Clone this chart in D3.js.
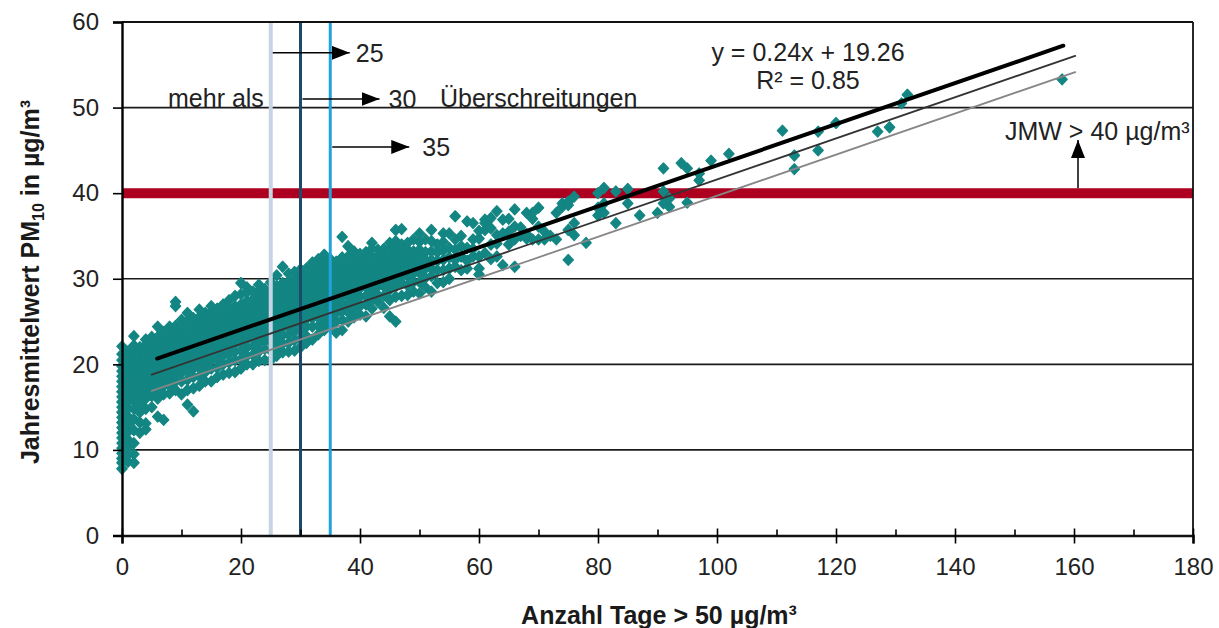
<!DOCTYPE html>
<html><head><meta charset="utf-8">
<script src="https://cdn.jsdelivr.net/npm/d3@7"></script>
<style>html,body{margin:0;padding:0;background:#fff;} svg{display:block;}</style>
</head><body>
<svg id="chart" width="1219" height="628"></svg>
<script>
// ---------- data ----------
const xTickValues = [0,20,40,60,80,100,120,140,160,180];
const xMinorTicks = [10,30,50,70,90,110,130,150,170];
const yTickValues = [0,10,20,30,40,50,60];
const gridValues = [10,20,30,50];
const thresholdDays = [25,30,35];
const thresholdColors = ["#c6d4e4","#1b4a6b","#22a2dc"];
const thresholdWidths = [4,3,3];
const arrowLabels = ["25","30","35"];
const arrowLevels = [56.4,51.0,45.4];
const limitValue = 40;
const fitSlopes = [0.24,0.24,0.24];
const fitIntercepts = [19.26,17.6,15.7];
const fitFrom = [5.9,5,5];
const fitTo = [158.2,160.2,160.2];
const fitColors = ["#000000","#333333","#868686"];
const fitWidths = [4,1.8,1.8];

// scatter: days (x) and annual means (y) grouped by day
const scatterDays = [0,1,2,3,4,5,6,7,8,9,10,11,12,13,14,15,16,17,18,19,20,21,22,23,24,25,26,27,28,29,30,31,32,33,34,35,36,37,38,39,40,41,42,43,44,45,46,47,48,49,50,51,52,53,54,55,56,57,58,59,60,61,62,63,64,65,66,67,68,69,70,71,72,73,74,75,76,78,80,81,83,85,87,90,91,92,94,95,97,99,102,111,113,117,120,127,129,131,132,158];
const scatterPM10 = [
 [7.8,8.5,9,9.6,10.2,10.8,11.4,12,12.6,13.2,13.8,14.4,15,15.6,16.2,16.8,17.4,18,18.6,19.2,19.8,20.5,21.2,22.1],
 [8.6,9.4,10.3,11.2,12.1,13,13.9,14.8,15.6,16.3,17,17.6,18.2,18.8,19.4,20,20.8,21.5],
 [8.5,9.5,10.8,12.3,13.6,14.8,15.8,16.7,17.4,18,18.6,19.2,19.8,20.5,21.3,22.2,23.3],
 [12,13.2,14.4,15.4,16.3,17,17.6,18.2,18.8,19.4,20,20.6,21.3,22],
 [12.4,13.1,14.8,16,16.8,17.4,18,18.6,19.2,19.8,20.4,21,21.6,22.3,22.9],
 [15,16.3,17,17.6,18.2,18.8,19.4,20,20.6,21.2,21.8,22.5,23.2],
 [13.9,16,17,17.6,18.2,18.8,19.4,20,20.6,21.2,21.8,22.4,23.2,24.4],
 [13.5,16.5,17.5,18.1,18.7,19.3,19.9,20.5,21.1,21.7,22.3,23,23.8],
 [16.6,17.5,18.2,18.8,19.4,20,20.6,21.2,21.8,22.4,23,23.7,24.4],
 [17,18,18.7,19.3,19.9,20.5,21.1,21.7,22.3,23,23.7,24.5,26.8,27.3],
 [16.5,18,19,19.6,20.2,20.8,21.4,22,22.6,23.2,23.8,24.5,25.2],
 [15.3,17,18.2,19.2,20,20.6,21.2,21.8,22.4,23,23.6,24.3,25.1,26],
 [14.5,17.2,18.5,19.5,20.3,20.9,21.5,22.1,22.7,23.3,23.9,24.6,25.4],
 [17.5,18.6,19.6,20.5,21.1,21.7,22.3,22.9,23.5,24.1,24.8,25.5,26.4],
 [18,19.1,20.1,21,21.6,22.2,22.8,23.4,24,24.6,25.2,26],
 [18,19.5,20.5,21.2,21.8,22.4,23,23.6,24.2,24.8,25.4,26.1,26.8],
 [18.5,19.6,20.6,21.5,22.1,22.7,23.3,23.9,24.5,25.1,25.7,26.5],
 [18.8,20,21,21.9,22.5,23.1,23.7,24.3,24.9,25.5,26.1,27],
 [19,20.2,21.2,22.1,22.8,23.4,24,24.6,25.2,25.8,26.5,27.5],
 [19.1,20.5,21.5,22.4,23.1,23.7,24.3,24.9,25.5,26.1,26.8,28],
 [19.5,20.6,21.6,22.5,23.2,23.8,24.4,25,25.6,26.2,27,28.2,29.5],
 [20,21,22,22.9,23.6,24.2,24.8,25.4,26,26.6,27.4,28.4,29],
 [20,21.1,22.1,23,23.8,24.4,25,25.6,26.2,26.8,27.6,28.5],
 [20.4,21.5,22.5,23.4,24.1,24.7,25.3,25.9,26.5,27.1,27.8,28.6,29.3],
 [20.5,21.8,22.8,23.7,24.4,25,25.6,26.2,26.8,27.4,28,28.8],
 [20.5,21.6,22.6,23.5,24.3,24.9,25.5,26.1,26.7,27.3,27.9,28.6,29.6],
 [21,22,23,23.9,24.7,25.3,25.9,26.5,27.1,27.7,28.3,29.1,30.4],
 [21.4,22.4,23.4,24.3,25,25.6,26.2,26.8,27.4,28,28.7,29.5,31.4],
 [21.5,22.5,23.5,24.4,25.2,25.8,26.4,27,27.6,28.2,28.9,29.7,30.6],
 [21.6,22.8,23.8,24.7,25.4,26,26.6,27.2,27.8,28.4,29.1,29.9,30.8],
 [22,23,24,24.9,25.7,26.3,26.9,27.5,28.1,28.7,29.4,30.2,31.1],
 [22.5,23.3,24.4,25.3,26,26.6,27.2,27.8,28.4,29,29.7,30.5,31.2],
 [22.9,24.4,25.4,26.1,26.7,27.3,27.9,28.5,29.1,29.7,30.4,31.2,31.9],
 [23.5,24.5,25.5,26.4,27,27.6,28.2,28.8,29.4,30,30.7,31.5,32.3],
 [24,25,26,26.7,27.3,27.9,28.5,29.1,29.7,30.3,31,31.8,32.8],
 [24.4,25.5,26.5,27.2,27.8,28.4,29,29.6,30.2,30.9,31.6,32.3],
 [23.7,25,26,26.9,27.6,28.2,28.8,29.4,30,30.6,31.3,32],
 [24,25.2,26.2,27.1,27.9,28.5,29.1,29.7,30.3,30.9,31.6,32.5,34.9],
 [25,26.1,27.1,28,28.7,29.3,29.9,30.5,31.1,31.8,32.6,33.8],
 [25.5,26.5,27.5,28.4,29.1,29.7,30.3,30.9,31.6,32.4,33.2],
 [25.8,26.8,27.9,28.9,29.6,30.2,30.8,31.4,32.1,32.9],
 [25.6,27,28,29,29.8,30.4,31,31.6,32.3,33.1],
 [26.5,27.5,28.5,29.4,30.1,30.7,31.3,31.9,32.6,33.5,34.2],
 [27.3,28.1,29.1,30,30.7,31.3,31.9,32.6,33.4],
 [26.6,28,29.1,30.1,30.8,31.4,32,32.7,33.5],
 [25.6,27.5,28.7,29.7,30.6,31.3,31.9,32.6,33.4,34.2],
 [25,27.9,29.1,30.1,31,31.6,32.2,32.9,33.7,34.4,35.7],
 [28,29.5,30.5,31.3,31.9,32.5,33.2,34,35.8],
 [28.1,29.2,30.3,31.2,32,32.7,33.4,34.2],
 [28.5,29.6,30.6,31.6,32.4,33.2,34.6],
 [28.3,29.6,30.7,31.7,32.6,33.4,34.3,35.3],
 [29,30.1,31.2,32.2,33.1,34.6],
 [28.5,30.3,31.2,32.2,33.2,34.4,35.7],
 [29.5,31,32.1,33.1,34],
 [29.6,31,32.2,33.3,34.3,35.3],
 [30,31.2,32.5,33.6,35.3],
 [31.4,32.2,33.4,34.6,37.3],
 [31,32.6,33.8,35],
 [31.2,32.1,33.6,36.7],
 [32.6,33.5,34.6,36.5],
 [30.5,31.2,32.6,34.7,35.6],
 [33,35.7,36.5,36.9],
 [32.3,34,35.9,37.1],
 [32.6,34.1,35.1,37.9],
 [31.6,35.3,36.9],
 [34,35.5,37],
 [31.4,34.6,36.1,38.1],
 [35,36],
 [34.7,35.2,37.7],
 [34.6,37,37.7],
 [34.6,36.1,38.3],
 [34.6,35.5],
 [35],
 [34.6,37.7],
 [38.4,38.8],
 [32.2,35.7,38.6,39],
 [35.1,36.5,39.6],
 [34.2],
 [37.4,38.3,40],
 [37.7,38.8,40.6],
 [36.5,40.2],
 [38.8,40.5],
 [37.4],
 [37.7],
 [38.8,40.2,42.9],
 [38.4,39.4],
 [43.5],
 [38.9,42.9],
 [41.5,42.3],
 [43.8],
 [44.6],
 [47.3],
 [42.8,44.4],
 [45,47.2],
 [48.2],
 [47.2],
 [47.7],
 [50.5],
 [51.5],
 [53.3]
];

// ---------- layout ----------
const svg = d3.select("#chart");
const FONT = "'Liberation Sans', Arial, sans-serif";
const TXT = "#222222";
const x = d3.scaleLinear().domain([0,180]).range([122,1193]);
const y = d3.scaleLinear().domain([0,60]).range([535.5,22]);

// grid lines
svg.append("g").selectAll("line").data(gridValues).join("line")
  .attr("x1", x(0)).attr("x2", x(180))
  .attr("y1", d => y(d)).attr("y2", d => y(d))
  .attr("stroke", "#1a1a1a").attr("stroke-width", 1.6);

// limit line (40 µg/m³)
svg.append("line")
  .attr("x1", x(0)).attr("x2", x(180))
  .attr("y1", y(limitValue)).attr("y2", y(limitValue))
  .attr("stroke", "#ad0020").attr("stroke-width", 10);

// scatter points
const points = [];
scatterDays.forEach((d,i) => scatterPM10[i].forEach(v => points.push([d,v])));
const diamond = "M0,-5.5L5.2,0L0,5.5L-5.2,0Z";
svg.append("g").selectAll("path").data(points).join("path")
  .attr("d", diamond)
  .attr("transform", d => `translate(${x(d[0])},${y(d[1])})`)
  .attr("fill", "#138683")
  .attr("stroke", "#138683").attr("stroke-width", 1.2).attr("stroke-linejoin","round");

// threshold vertical lines
svg.append("g").selectAll("line").data(thresholdDays).join("line")
  .attr("x1", d => x(d)).attr("x2", d => x(d))
  .attr("y1", y(0)).attr("y2", y(60))
  .attr("stroke", (d,i) => thresholdColors[i])
  .attr("stroke-width", (d,i) => thresholdWidths[i]);

// fit lines
svg.append("g").selectAll("line").data(fitSlopes).join("line")
  .attr("x1", (d,i) => x(fitFrom[i])).attr("x2", (d,i) => x(fitTo[i]))
  .attr("y1", (d,i) => y(d*fitFrom[i]+fitIntercepts[i]))
  .attr("y2", (d,i) => y(d*fitTo[i]+fitIntercepts[i]))
  .attr("stroke", (d,i) => fitColors[i])
  .attr("stroke-width", (d,i) => fitWidths[i])
  .attr("stroke-linecap", "round");

// frame: top and right
svg.append("line").attr("x1", x(0)).attr("x2", x(180)).attr("y1", y(60)).attr("y2", y(60))
  .attr("stroke", "#111").attr("stroke-width", 2);
svg.append("line").attr("x1", x(180)).attr("x2", x(180)).attr("y1", y(60)).attr("y2", y(0))
  .attr("stroke", "#111").attr("stroke-width", 1.8);

// y axis
const yAxis = svg.append("g").attr("transform", `translate(${x(0)},0)`)
  .call(d3.axisLeft(y).tickValues(yTickValues).tickSize(9).tickPadding(14).tickFormat(d3.format("d")));
yAxis.select(".domain").attr("stroke", "#000").attr("stroke-width", 2.4);
yAxis.selectAll(".tick line").attr("stroke", "#000").attr("stroke-width", 1.6);
yAxis.selectAll("text").attr("font-family", FONT).attr("font-size", 24).attr("fill", TXT);

// x axis (major ticks crossing the axis)
const xAxis = svg.append("g").attr("transform", `translate(0,${y(0)})`)
  .call(d3.axisBottom(x).tickValues(xTickValues).tickSize(8).tickPadding(14).tickFormat(d3.format("d")));
xAxis.select(".domain").attr("stroke", "#111").attr("stroke-width", 2.6);
xAxis.selectAll(".tick line").attr("y1", -7).attr("stroke", "#000").attr("stroke-width", 1.6);
xAxis.selectAll("text").attr("font-family", FONT).attr("font-size", 24).attr("fill", TXT);
const xMinor = svg.append("g").attr("transform", `translate(0,${y(0)})`)
  .call(d3.axisBottom(x).tickValues(xMinorTicks).tickSize(-6).tickFormat(""));
xMinor.select(".domain").remove();
xMinor.selectAll(".tick line").attr("stroke", "#000").attr("stroke-width", 1.6);

// axis titles
svg.append("text").attr("x", 659).attr("y", 624).attr("text-anchor", "middle")
  .attr("font-family", FONT).attr("font-size", 25).attr("font-weight", "bold").attr("fill", "#1a1a1a")
  .text("Anzahl Tage > 50 µg/m³");
const yTitle = svg.append("text").attr("transform", "translate(39,282) rotate(-90)")
  .attr("text-anchor", "middle").attr("font-family", FONT).attr("font-size", 25)
  .attr("font-weight", "bold").attr("fill", "#1a1a1a");
yTitle.append("tspan").text("Jahresmittelwert PM");
yTitle.append("tspan").attr("font-size", 16).attr("dy", 5).text("10");
yTitle.append("tspan").attr("dy", -5).text(" in µg/m³");

// arrows for thresholds
const defs = svg.append("defs");
defs.append("marker").attr("id", "head").attr("viewBox", "0 0 18 14")
  .attr("refX", 18).attr("refY", 7).attr("markerWidth", 18).attr("markerHeight", 14)
  .attr("markerUnits", "userSpaceOnUse").attr("orient", "auto")
  .append("path").attr("d", "M0,0L18,7L0,14Z").attr("fill", "#000");

const arrowG = svg.append("g");
const labelOffsets = [6, 9, 13];
thresholdDays.forEach((d,i) => {
  const xs = x(d) + 2, xe = x(d) + 79;
  arrowG.append("line").attr("x1", xs).attr("x2", xe)
    .attr("y1", y(arrowLevels[i])).attr("y2", y(arrowLevels[i]))
    .attr("stroke", "#000").attr("stroke-width", 1.5).attr("marker-end", "url(#head)");
  arrowG.append("text").attr("x", xe + labelOffsets[i])
    .attr("y", y(arrowLevels[i]) + 9)
    .attr("font-family", FONT).attr("font-size", 25).attr("fill", TXT)
    .text(arrowLabels[i]);
});
svg.append("text").attr("x", 168).attr("y", 107).attr("font-family", FONT).attr("font-size", 25)
  .attr("fill", TXT).text("mehr als");
svg.append("text").attr("x", 440).attr("y", 107).attr("font-family", FONT).attr("font-size", 25)
  .attr("fill", TXT).text("Überschreitungen");

// regression equation
svg.append("text").attr("x", 808).attr("y", 61).attr("text-anchor", "middle")
  .attr("font-family", FONT).attr("font-size", 25).attr("fill", TXT)
  .text(`y = ${fitSlopes[0]}x + ${fitIntercepts[0]}`);
svg.append("text").attr("x", 808).attr("y", 89).attr("text-anchor", "middle")
  .attr("font-family", FONT).attr("font-size", 25).attr("fill", TXT)
  .text("R² = 0.85");

// limit annotation
svg.append("line").attr("x1", 1078).attr("x2", 1078).attr("y1", y(limitValue) - 5).attr("y2", 140)
  .attr("stroke", "#000").attr("stroke-width", 1.5).attr("marker-end", "url(#head)");
svg.append("text").attr("x", 1005).attr("y", 140)
  .attr("font-family", FONT).attr("font-size", 25).attr("fill", TXT)
  .text("JMW > 40 µg/m³");
</script>
</body></html>
